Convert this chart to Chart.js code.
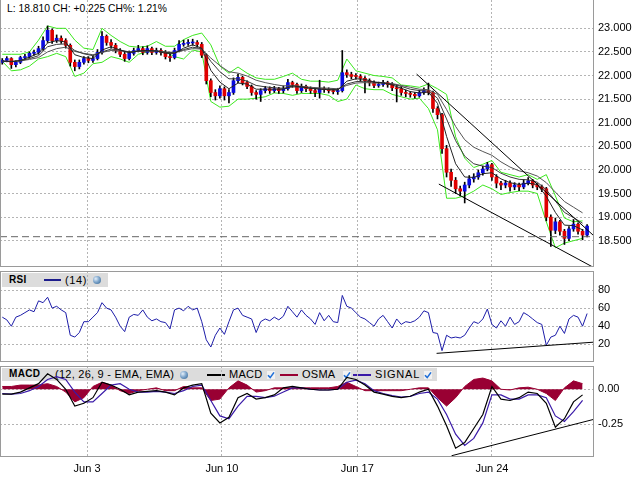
<!DOCTYPE html>
<html><head><meta charset="utf-8">
<script src="https://cdn.jsdelivr.net/npm/chart.js@4.4.1/dist/chart.umd.min.js"></script>
<style>
html,body{margin:0;padding:0;background:#fff;}
#wrap{position:relative;width:640px;height:480px;overflow:hidden;font-family:"Liberation Sans",Arial,sans-serif;background:#fff;}
canvas{position:absolute;left:0;}
.box{position:absolute;background:#dcdcdc;}
.t{position:absolute;font-size:11px;line-height:14px;color:#000;white-space:nowrap;letter-spacing:0.25px;}
.b{font-weight:bold;font-size:10px;letter-spacing:0.3px;}
.ln{position:absolute;height:2px;}
.globe{position:absolute;width:8px;height:8px;border-radius:50%;background:radial-gradient(circle at 35% 35%,#e6f0fa 0%,#7fa6cc 45%,#2d5f8e 100%);}
.chk{position:absolute;width:8px;height:8px;}
#hdr{position:absolute;left:7px;top:3px;font-size:10.3px;line-height:12px;color:#000;white-space:nowrap;}
</style></head>
<body>
<div id="wrap">
  <div id="hdr">L: 18.810 CH: +0.225 CH%: 1.21%</div>

  <div class="box" style="left:2px;top:273px;width:106px;height:14px;"></div>
  <div class="t b" style="left:9px;top:273px;">RSI</div>
  <div class="ln" style="left:44px;top:279px;width:17px;background:#1c1c8c;"></div>
  <div class="t" style="left:65px;top:273px;letter-spacing:0.6px;">(14)</div>
  <div class="globe" style="left:93px;top:276px;"></div>

  <div class="box" style="left:2px;top:368px;width:435px;height:13px;"></div>
  <div class="t b" style="left:9px;top:367px;">MACD</div>
  <div class="t" style="left:55px;top:367px;">(12, 26, 9 - EMA, EMA)</div>
  <div class="globe" style="left:180px;top:371px;"></div>
  <div class="ln" style="left:207px;top:374px;width:18px;background:#000;"></div>
  <div class="t" style="left:229px;top:367px;">MACD</div>
  <svg class="chk" style="left:267px;top:371px;" viewBox="0 0 8 8"><rect width="8" height="8" fill="#f2f2f2"/><path d="M1 4.2 L3.2 6.6 L7 1.4" stroke="#1f6fd8" stroke-width="1.6" fill="none"/></svg>
  <div class="ln" style="left:280px;top:374px;width:18px;background:#990033;"></div>
  <div class="t" style="left:302px;top:367px;">OSMA</div>
  <svg class="chk" style="left:343px;top:371px;" viewBox="0 0 8 8"><rect width="8" height="8" fill="#f2f2f2"/><path d="M1 4.2 L3.2 6.6 L7 1.4" stroke="#1f6fd8" stroke-width="1.6" fill="none"/></svg>
  <div class="ln" style="left:353px;top:374px;width:18px;background:#3a1aa8;"></div>
  <div class="t" style="left:375px;top:367px;letter-spacing:0.8px;">SIGNAL</div>
  <svg class="chk" style="left:424px;top:371px;" viewBox="0 0 8 8"><rect width="8" height="8" fill="#f2f2f2"/><path d="M1 4.2 L3.2 6.6 L7 1.4" stroke="#1f6fd8" stroke-width="1.6" fill="none"/></svg>

  <canvas id="cPrice" width="640" height="267" style="top:0px;"></canvas>
  <canvas id="cRsi" width="640" height="91" style="top:271px;"></canvas>
  <canvas id="cMacd" width="640" height="114" style="top:366px;"></canvas>
</div>
<script>
// ---------- DATA ----------
const weekTicks = [18.7, 48.45, 78.3, 108.0];
const weekLabels = ['Jun 3', 'Jun 10', 'Jun 17', 'Jun 24'];
const priceTicks = [18.5, 19, 19.5, 20, 20.5, 21, 21.5, 22, 22.5, 23];
const rsiTicks = [20, 40, 60, 80];
const macdTicks = [0, -0.25];
const prevClose = 18.585;

const openP = [
22.28,22.32,22.36,22.23,22.28,22.38,22.40,22.47,22.49,22.57,
22.74,22.96,22.74,22.79,22.74,22.64,22.28,22.19,22.28,22.36,
22.32,22.36,22.49,22.83,22.70,22.64,22.53,22.45,22.36,22.47,
22.53,22.57,22.49,22.57,22.49,22.53,22.49,22.40,22.38,22.53,
22.66,22.68,22.69,22.70,22.66,22.43,21.89,21.64,21.57,21.72,
21.57,21.64,21.89,21.96,21.85,21.77,21.64,21.60,21.68,21.72,
21.68,21.72,21.68,21.72,21.85,21.81,21.68,21.77,21.72,21.68,
21.64,21.72,21.70,21.68,21.66,21.68,22.06,22.02,21.99,21.98,
21.94,21.89,21.85,21.79,21.81,21.85,21.81,21.74,21.72,21.64,
21.62,21.60,21.57,21.64,21.68,21.64,21.30,21.17,20.45,19.95,
19.78,19.60,19.55,19.68,19.81,19.85,19.94,20.02,20.11,19.85,
19.72,19.68,19.72,19.64,19.68,19.64,19.72,19.77,19.68,19.64,
19.60,19.00,18.72,18.90,18.70,18.55,18.75,18.85,18.70,18.62];
const highP = [
22.36,22.40,22.38,22.31,22.41,22.45,22.50,22.54,22.62,22.82,
23.05,22.99,22.86,22.84,22.78,22.67,22.33,22.33,22.40,22.40,
22.41,22.55,22.93,22.86,22.76,22.68,22.57,22.49,22.52,22.58,
22.64,22.61,22.63,22.60,22.58,22.57,22.53,22.46,22.58,22.74,
22.75,22.76,22.77,22.74,22.70,22.46,21.93,21.70,21.78,21.76,
21.70,21.95,22.03,21.99,21.89,21.80,21.68,21.72,21.77,21.76,
21.77,21.75,21.78,21.92,21.88,21.84,21.82,21.80,21.76,21.72,
21.90,21.76,21.74,21.72,21.73,22.53,22.12,22.07,22.04,22.02,
21.98,21.93,21.89,21.86,21.90,21.88,21.85,21.79,21.76,21.69,
21.66,21.64,21.69,21.74,21.84,21.67,21.34,21.20,20.52,20.02,
19.84,19.66,19.74,19.88,19.92,20.00,20.08,20.16,20.14,19.90,
19.76,19.78,19.77,19.73,19.72,19.80,19.84,19.80,19.71,19.68,
19.63,19.05,18.98,18.93,18.74,18.80,18.95,18.88,18.74,18.84];
const lowP = [
22.24,22.29,22.15,22.18,22.25,22.34,22.37,22.43,22.45,22.53,
22.70,22.68,22.70,22.68,22.58,22.20,22.10,22.14,22.24,22.27,
22.28,22.33,22.45,22.64,22.58,22.48,22.40,22.30,22.33,22.43,
22.50,22.44,22.45,22.44,22.45,22.43,22.35,22.30,22.35,22.50,
22.62,22.64,22.64,22.60,22.38,21.82,21.55,21.48,21.52,21.48,
21.42,21.60,21.85,21.80,21.72,21.58,21.50,21.45,21.63,21.62,
21.64,21.62,21.63,21.69,21.75,21.62,21.64,21.66,21.62,21.55,
21.52,21.64,21.63,21.61,21.60,21.65,21.96,21.93,21.92,21.88,
21.63,21.78,21.74,21.75,21.77,21.75,21.68,21.44,21.58,21.55,
21.54,21.52,21.54,21.60,21.59,21.22,21.08,20.35,19.85,19.65,
19.50,19.45,19.30,19.62,19.74,19.80,19.89,19.98,19.78,19.62,
19.58,19.62,19.55,19.58,19.56,19.60,19.68,19.62,19.58,19.54,
18.92,18.38,18.65,18.62,18.42,18.50,18.70,18.64,18.52,18.58];
const closeP = [
22.32,22.36,22.23,22.28,22.38,22.40,22.47,22.49,22.57,22.74,
22.96,22.74,22.79,22.74,22.64,22.28,22.19,22.28,22.36,22.32,
22.36,22.49,22.83,22.70,22.64,22.53,22.45,22.36,22.47,22.53,
22.57,22.49,22.57,22.49,22.53,22.49,22.40,22.38,22.53,22.66,
22.68,22.70,22.70,22.66,22.43,21.89,21.64,21.57,21.72,21.57,
21.64,21.89,21.96,21.85,21.77,21.64,21.60,21.68,21.72,21.68,
21.72,21.68,21.72,21.85,21.81,21.68,21.77,21.72,21.68,21.64,
21.72,21.70,21.68,21.66,21.68,22.06,22.02,21.98,21.98,21.94,
21.89,21.85,21.79,21.81,21.85,21.81,21.74,21.72,21.64,21.62,
21.60,21.57,21.64,21.68,21.64,21.30,21.17,20.45,19.95,19.78,
19.60,19.55,19.68,19.81,19.85,19.94,20.02,20.11,19.85,19.72,
19.68,19.72,19.64,19.68,19.64,19.72,19.77,19.68,19.64,19.60,
19.00,18.72,18.90,18.70,18.55,18.75,18.85,18.70,18.62,18.81];

// indicator series sampled every 2 bars
const STEP = 2;
const maFast = [
22.31,22.29,22.32,22.39,22.47,22.69,22.74,22.71,22.44,22.38,
22.36,22.54,22.61,22.54,22.48,22.52,22.53,22.52,22.47,22.47,
22.58,22.65,22.58,22.11,21.86,21.72,21.84,21.82,21.71,21.71,
21.71,21.71,21.78,21.76,21.73,21.71,21.70,21.69,21.88,21.93,
21.92,21.86,21.84,21.80,21.73,21.66,21.63,21.65,21.41,20.71,
20.13,19.85,19.84,19.92,19.94,19.81,19.73,19.69,19.72,19.69,
19.44,19.10,18.83,18.82,18.73];
const maMid = [
22.30,22.30,22.31,22.36,22.42,22.61,22.66,22.67,22.53,22.46,
22.42,22.50,22.56,22.54,22.50,22.52,22.52,22.52,22.49,22.48,
22.55,22.60,22.57,22.30,22.08,21.93,21.93,21.88,21.79,21.76,
21.74,21.73,21.76,21.75,21.73,21.72,21.71,21.70,21.82,21.87,
21.88,21.86,21.85,21.82,21.77,21.71,21.68,21.67,21.52,21.08,
20.62,20.29,20.13,20.08,20.05,19.93,19.85,19.80,19.79,19.74,
19.58,19.34,19.10,18.99,18.87];
const maSlow = [
22.30,22.30,22.31,22.34,22.38,22.50,22.57,22.60,22.51,22.47,
22.44,22.49,22.53,22.52,22.50,22.51,22.52,22.52,22.50,22.49,
22.53,22.57,22.56,22.37,22.21,22.08,22.05,21.99,21.90,21.85,
21.81,21.78,21.79,21.77,21.75,21.74,21.73,21.72,21.79,21.84,
21.85,21.84,21.84,21.83,21.79,21.75,21.71,21.70,21.60,21.28,
20.92,20.64,20.48,20.39,20.31,20.17,20.06,19.98,19.94,19.87,
19.73,19.53,19.33,19.21,19.09];
const bandUpper = [
22.45,22.45,22.45,22.50,22.75,23.05,23.00,23.00,22.75,22.58,
22.55,23.00,22.85,22.72,22.62,22.60,22.62,22.72,22.62,22.62,
22.76,22.85,22.90,22.65,22.20,22.05,22.18,22.05,21.95,21.92,
21.92,21.98,22.05,21.92,21.88,21.88,21.86,21.90,22.35,22.10,
22.05,22.00,21.98,21.95,21.80,21.78,21.75,21.82,21.72,21.60,
20.70,20.25,20.05,20.12,20.20,19.95,19.90,19.85,19.90,19.80,
19.90,19.45,18.98,18.90,18.92];
const bandLower = [
22.30,22.10,22.12,22.20,22.35,22.40,22.47,22.40,21.98,22.05,
22.25,22.28,22.40,22.35,22.28,22.45,22.50,22.52,22.50,22.40,
22.35,22.54,22.50,21.45,21.33,21.35,21.50,21.50,21.52,21.55,
21.63,21.62,21.58,21.62,21.62,21.62,21.58,21.45,21.50,21.80,
21.72,21.70,21.70,21.60,21.55,21.50,21.52,21.30,20.85,19.40,
19.40,19.45,19.55,19.68,19.60,19.48,19.52,19.55,19.55,19.50,
18.90,18.35,18.45,18.50,18.55];

// RSI per bar
const rsi14 = [
50,47,40,50,52,55,58,56,68,66,
72,60,62,58,55,30,28,33,45,45,
50,55,66,60,58,50,40,34,50,53,
52,58,50,46,48,45,44,37,58,60,
57,62,58,60,45,25,17,30,38,31,
45,58,60,52,50,48,33,45,48,46,
50,47,51,62,56,50,58,52,48,42,
55,46,52,45,44,74,62,60,55,50,
48,44,40,48,52,45,38,48,42,45,
44,46,50,57,55,33,32,13,30,27,
28,27,30,38,45,43,48,59,42,38,
46,40,50,42,45,55,52,48,44,42,
19,28,30,40,32,48,52,50,40,54];

// MACD (12,26,9) every 2 bars
const macdLine = [
-0.035,-0.035,-0.02,0.01,0.04,0.11,0.07,0.0,-0.12,-0.10,
-0.06,0.05,0.03,0.0,-0.04,-0.02,-0.015,-0.01,-0.02,-0.04,
0.01,0.03,0.04,-0.17,-0.24,-0.20,-0.06,-0.03,-0.07,-0.06,
-0.04,0.01,0.02,0.01,0.0,-0.005,-0.005,0.0,0.085,0.07,
0.03,-0.02,-0.035,-0.05,-0.06,-0.05,-0.02,0.0,-0.12,-0.26,
-0.42,-0.38,-0.28,-0.18,0.02,-0.07,-0.08,-0.06,-0.02,-0.03,
-0.10,-0.27,-0.21,-0.09,-0.04];
const signalLine = [
-0.03,-0.035,-0.03,-0.01,0.02,0.07,0.09,0.07,-0.02,-0.09,
-0.09,-0.03,0.03,0.04,0.0,-0.02,-0.02,-0.015,-0.02,-0.03,
-0.01,0.02,0.03,-0.08,-0.19,-0.21,-0.12,-0.05,-0.05,-0.06,
-0.05,-0.02,0.01,0.01,0.0,-0.005,-0.005,0.0,0.05,0.065,
0.04,-0.01,-0.03,-0.045,-0.055,-0.05,-0.03,-0.02,-0.07,-0.18,
-0.32,-0.40,-0.35,-0.24,-0.04,-0.04,-0.07,-0.07,-0.04,-0.04,
-0.06,-0.19,-0.23,-0.16,-0.08];
const osma = [
0.02,0.02,0.03,0.03,0.03,0.04,0.02,-0.02,-0.09,-0.06,
0.02,0.05,0.03,-0.01,-0.03,-0.01,0.0,0.01,-0.01,-0.01,
0.02,0.01,0.01,-0.08,-0.07,0.01,0.06,0.03,-0.02,-0.01,
0.01,0.01,0.01,0.01,0.01,0.01,0.01,0.02,0.05,0.02,
-0.01,-0.01,-0.01,-0.01,-0.01,0.0,0.01,0.01,-0.06,-0.12,
-0.06,0.02,0.07,0.08,0.06,0.0,-0.005,0.01,0.015,0.0,
-0.03,-0.08,0.01,0.06,0.04];

// drawn trend lines (bar index, value)
const priceTrendUpper = [{x: 91.4, y: 22.03}, {x: 130.3, y: 18.62}];
const priceTrendLower = [{x: 96.3, y: 19.70}, {x: 130.3, y: 17.94}];
const rsiTrend = [{x: 95.8, y: 10.0}, {x: 130.3, y: 22.3}];
const macdTrend = [{x: 99.1, y: -0.474}, {x: 130.3, y: -0.216}];

// ---------- STYLE / HELPERS ----------
const X_MIN = -0.5, X_MAX = 130.3;
const GRID = '#b4b4b4', FRAME = '#9a9a9a';
const RED = '#e00000', BLUE = '#0a0ae0', GREEN = '#3ce81e';
const FONT = {family: "'Liberation Sans', Arial, sans-serif", size: 11};
Chart.defaults.font.family = FONT.family;

const framePlugin = {
  id: 'panelFrame',
  afterDraw(chart, args, o) {
    const {ctx, chartArea: a} = chart;
    const l = Math.round(a.left) + 0.5, r = Math.round(a.right) + 0.5;
    const t = Math.round(a.top) + 0.5, b = Math.round(a.bottom) - 0.5;
    ctx.save();
    ctx.setLineDash([]);
    ctx.strokeStyle = FRAME;
    ctx.lineWidth = 1;
    ctx.beginPath();
    if (o.left) { ctx.moveTo(l, t - 0.5); ctx.lineTo(l, b + 0.5); }
    if (o.right) { ctx.moveTo(r, t - 0.5); ctx.lineTo(r, b + 0.5); }
    if (o.top) { ctx.moveTo(l, t); ctx.lineTo(r, t); }
    if (o.bottom) { ctx.moveTo(l, b); ctx.lineTo(r, b); }
    ctx.stroke();
    ctx.restore();
  }
};

function xAxis(show, h) {
  return {
    type: 'linear', min: X_MIN, max: X_MAX, offset: false,
    grid: {color: GRID, lineWidth: 1, drawTicks: false, offset: false},
    border: {display: false, dash: [2, 2]},
    ticks: {display: show, font: FONT, color: '#000', padding: 5, maxRotation: 0, autoSkip: false,
            callback: (v, i) => weekLabels[i]},
    afterBuildTicks: s => { s.ticks = weekTicks.map(v => ({value: v})); },
    afterFit: s => { s.height = h; s.paddingLeft = 0; s.paddingRight = 0; }
  };
}
function yAxis(min, max, ticks, fmt) {
  return {
    position: 'right', min, max,
    grid: {color: GRID, lineWidth: 1, drawTicks: false},
    border: {display: false, dash: [2, 2]},
    ticks: {font: FONT, color: '#000', padding: 5, callback: fmt},
    afterBuildTicks: s => { s.ticks = ticks.map(v => ({value: v})); },
    afterFit: s => { s.width = 47; s.paddingTop = 0; s.paddingBottom = 0; }
  };
}
function line(data, color, width, extra) {
  return Object.assign({type: 'line', data, borderColor: color, backgroundColor: color,
    borderWidth: width, pointRadius: 0, pointHoverRadius: 0, fill: false, tension: 0}, extra || {});
}
const sparse = arr => arr.map((v, k) => ({x: k * STEP, y: v}));
const perBar = arr => arr.map((v, k) => ({x: k, y: v}));
function baseOptions(xa, ya, frame) {
  return {
    responsive: false, animation: false, events: [],
    layout: {padding: 0, autoPadding: false},
    plugins: {legend: {display: false}, tooltip: {enabled: false}, panelFrame: frame},
    scales: {x: xa, y: ya}
  };
}

// ---------- PRICE ----------
new Chart(document.getElementById('cPrice'), {
  type: 'line',
  data: {datasets: [
    line(priceTrendUpper, '#000', 1),
    line(priceTrendLower, '#000', 1),
    line([{x: X_MIN, y: prevClose}, {x: X_MAX, y: prevClose}], '#666', 1, {borderDash: [7, 4]}),
    line(sparse(maFast), '#222', 1),
    line(sparse(maMid), '#3a3a3a', 1),
    line(sparse(maSlow), '#555', 1),
    {type: 'bar', data: closeP.map((c, i) => ({x: i, y: [openP[i], c]})),
     backgroundColor: closeP.map((c, i) => c >= openP[i] ? BLUE : RED),
     barThickness: 3, grouped: false, minBarLength: 1, borderWidth: 0},
    {type: 'bar', data: highP.map((h, i) => ({x: i, y: [lowP[i], h]})),
     backgroundColor: '#000', barThickness: 1, grouped: false, borderWidth: 0},
    line(sparse(bandUpper), GREEN, 1),
    line(sparse(bandLower), GREEN, 1)
  ]},
  options: baseOptions(xAxis(false, 0), yAxis(17.943, 23.6, priceTicks, v => v.toFixed(3)),
    {left: true, right: true, bottom: true, top: false}),
  plugins: [framePlugin]
});

// ---------- RSI ----------
new Chart(document.getElementById('cRsi'), {
  type: 'line',
  data: {datasets: [
    line(rsiTrend, '#000', 1),
    line(perBar(rsi14), '#1c1ca8', 1)
  ]},
  options: baseOptions(xAxis(false, 0), yAxis(0.45, 101, rsiTicks, v => String(v)),
    {left: true, right: true, bottom: true, top: true}),
  plugins: [framePlugin]
});

// ---------- MACD ----------
new Chart(document.getElementById('cMacd'), {
  type: 'line',
  data: {datasets: [
    line(macdTrend, '#000', 1),
    line(sparse(macdLine), '#000', 1.2),
    line(sparse(signalLine), '#3a1aa8', 1.2),
    line(sparse(osma), '#990033', 1, {fill: 'origin', backgroundColor: '#990033'})
  ]},
  options: baseOptions(xAxis(true, 23), yAxis(-0.483, 0.166, macdTicks, v => v.toFixed(2)),
    {left: true, right: true, bottom: true, top: true}),
  plugins: [framePlugin]
});
</script>
</body></html>
